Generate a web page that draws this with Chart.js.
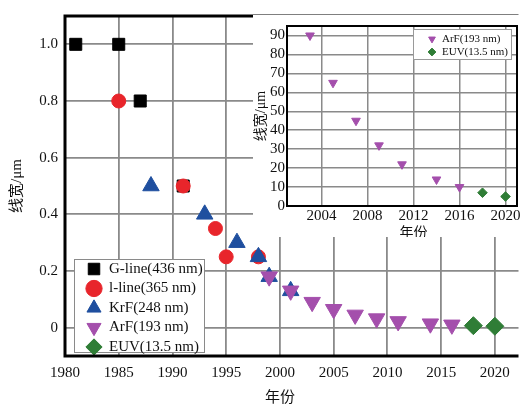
<!DOCTYPE html>
<html><head><meta charset="utf-8">
<script src="https://cdn.jsdelivr.net/npm/chart.js@4.4.1/dist/chart.umd.min.js"></script>
<style>
html,body{margin:0;padding:0;background:#fff;}
#wrap{position:relative;width:529px;height:408px;overflow:hidden;background:#fff;}
#main{position:absolute;left:0;top:0;}
#insetBox{position:absolute;left:253px;top:15px;width:270px;height:222px;background:#fff;}
#inset{position:absolute;left:0;top:0;}
</style></head><body>
<div id="wrap">
<canvas id="main" width="529" height="408"></canvas>
<div id="insetBox"><canvas id="inset" width="270" height="222"></canvas></div>
</div>
<script>
// ---- data (main chart, line width in µm) ----
const gYears = [1981, 1985, 1987, 1991];
const gWidths = [1.0, 1.0, 0.8, 0.5];
const iYears = [1985, 1991, 1994, 1995, 1998];
const iWidths = [0.8, 0.5, 0.35, 0.25, 0.25];
const krfYears = [1988, 1993, 1996, 1998, 1999, 2001];
const krfWidths = [0.5, 0.4, 0.3, 0.25, 0.18, 0.13];
const arfYears = [1999, 2001, 2003, 2005, 2007, 2009, 2011, 2014, 2016];
const arfWidths = [0.18, 0.13, 0.09, 0.065, 0.045, 0.032, 0.022, 0.014, 0.010];
const euvYears = [2018, 2020];
const euvWidths = [0.007, 0.005];
const seriesNames = ['G-line(436 nm)', 'l-line(365 nm)', 'KrF(248 nm)', 'ArF(193 nm)', 'EUV(13.5 nm)'];
const xTicks = [1980, 1985, 1990, 1995, 2000, 2005, 2010, 2015, 2020];
const xTickLabels = ['1980', '1985', '1990', '1995', '2000', '2005', '2010', '2015', '2020'];
const yTicks = [0, 0.2, 0.4, 0.6, 0.8, 1.0];
const yTickLabels = ['0', '0.2', '0.4', '0.6', '0.8', '1.0'];

// ---- data (inset chart, line width in nm) ----
const insetArfYears = [2003, 2005, 2007, 2009, 2011, 2014, 2016];
const insetArfNm = [90, 65, 45, 32, 22, 14, 10];
const insetEuvYears = [2018, 2020];
const insetEuvNm = [7, 5];
const insetXTicks = [2004, 2008, 2012, 2016, 2020];
const insetXTickLabels = ['2004', '2008', '2012', '2016', '2020'];
const insetYTicks = [0, 10, 20, 30, 40, 50, 60, 70, 80, 90];
const insetYTickLabels = ['0', '10', '20', '30', '40', '50', '60', '70', '80', '90'];

const yTitle = '线宽/μm';
const xTitle = '年份';

const SERIF = "'Liberation Serif', 'Times New Roman', 'Noto Sans CJK SC', serif";
const BLACK = '#000000', RED = '#e8252b', BLUE = '#1f4f9f', PURPLE = '#a44fac', GREEN = '#2f7d36';
const GRID = '#8a8a8a';

Chart.defaults.font.family = SERIF;
Chart.defaults.color = '#111';

function pts(xs, ys) { return xs.map((x, i) => ({ x: x, y: ys[i] })); }
function mk(label, xs, ys, style, color, r, rot, order) {
  return { label: label, data: pts(xs, ys), pointStyle: style, backgroundColor: color, borderColor: color,
    borderWidth: 1, pointRadius: r, pointHoverRadius: r, pointRotation: rot, order: order };
}

function decor(cfg) {
  return {
    id: 'decor',
    afterLayout(chart) {
      const lg = chart.legend;
      if (!lg) return;
      lg.left = cfg.legendLeft; lg.top = cfg.legendTop;
      lg.width = cfg.legendW; lg.height = cfg.legendH;
      lg.right = cfg.legendLeft + cfg.legendW; lg.bottom = cfg.legendTop + cfg.legendH;
      if (!lg._bgWrapped) {
        const orig = lg.draw;
        lg.draw = function () {
          const c = chart.ctx, b = cfg.bg;
          c.save();
          c.fillStyle = '#fff';
          c.fillRect(b.x, b.y, b.w, b.h);
          c.lineWidth = 1;
          c.strokeStyle = cfg.bgBorder;
          c.strokeRect(b.x + 0.5, b.y + 0.5, b.w - 1, b.h - 1);
          c.restore();
          return orig.apply(this, arguments);
        };
        lg._bgWrapped = true;
      }
    },
    beforeDatasetsDraw(chart) {
      const a = chart.chartArea, c = chart.ctx;
      c.save();
      c.strokeStyle = '#000';
      c.lineWidth = cfg.frameWidth;
      c.lineJoin = 'miter';
      c.beginPath();
      if (cfg.fullFrame) {
        c.rect(a.left, a.top, a.right - a.left, a.bottom - a.top);
      } else {
        c.moveTo(a.right, a.top); c.lineTo(a.left, a.top); c.lineTo(a.left, a.bottom); c.lineTo(a.right, a.bottom);
      }
      c.stroke();
      c.restore();
    },
    afterDraw(chart) {
      const c = chart.ctx;
      c.save();
      c.font = cfg.titleSize + 'px ' + SERIF;
      c.fillStyle = '#111';
      c.textAlign = 'center';
      c.textBaseline = 'middle';
      c.fillText(cfg.titleText, chart.scales.x.getPixelForValue(cfg.titleValue), cfg.titleY);
      c.restore();
    }
  };
}

new Chart(document.getElementById('main'), {
  type: 'scatter',
  data: { datasets: [
    mk(seriesNames[0], gYears, gWidths, 'rect', BLACK, 8.5, 0, 5),
    mk(seriesNames[1], iYears, iWidths, 'circle', RED, 7, 0, 4),
    mk(seriesNames[2], krfYears, krfWidths, 'triangle', BLUE, 9.5, 0, 3),
    mk(seriesNames[3], arfYears, arfWidths, 'triangle', PURPLE, 9.5, 180, 2),
    mk(seriesNames[4], euvYears, euvWidths, 'rectRot', GREEN, 9, 0, 1)
  ]},
  options: {
    responsive: false, animation: false, devicePixelRatio: 1,
    layout: { padding: { top: 13, left: 0, right: 0, bottom: 0 } },
    plugins: {
      tooltip: { enabled: false },
      legend: {
        position: 'chartArea', align: 'start',
        labels: { usePointStyle: true, boxHeight: 11.5, boxWidth: 15, padding: 4.5,
          font: { size: 15, family: SERIF }, color: '#111',
          sort: (a, b) => a.datasetIndex - b.datasetIndex }
      }
    },
    scales: {
      x: { type: 'linear', min: 1980, max: 2022.2,
        afterBuildTicks: s => { s.ticks = xTicks.map(v => ({ value: v })); },
        afterFit: s => { s.height = 52; },
        grid: { color: GRID, lineWidth: 1.8, drawTicks: false, z: -1 },
        border: { display: false },
        ticks: { padding: 8, font: { size: 15 }, color: '#111', maxRotation: 0, autoSkip: false,
          callback: (v, i) => xTickLabels[i] }
      },
      y: { type: 'linear', min: -0.1, max: 1.1,
        afterBuildTicks: s => { s.ticks = yTicks.map(v => ({ value: v })); },
        afterFit: s => { s.width = 65; },
        grid: { color: GRID, lineWidth: 1.8, drawTicks: false, z: -1 },
        border: { display: false },
        ticks: { padding: 7, font: { size: 15 }, color: '#111', autoSkip: false,
          callback: (v, i) => yTickLabels[i] },
        title: { display: true, text: yTitle, font: { size: 15 }, color: '#111', padding: { top: 8.5, bottom: 0 } }
      }
    }
  },
  plugins: [decor({ legendLeft: 82, legendTop: 257, legendW: 130, legendH: 140,
    bg: { x: 74, y: 259, w: 131, h: 94 }, bgBorder: '#8a8a8a',
    frameWidth: 3, fullFrame: false, titleText: xTitle, titleValue: 2000, titleY: 398.5, titleSize: 15 })]
});

new Chart(document.getElementById('inset'), {
  type: 'scatter',
  data: { datasets: [
    mk(seriesNames[3], insetArfYears, insetArfNm, 'triangle', PURPLE, 5, 180, 2),
    mk(seriesNames[4], insetEuvYears, insetEuvNm, 'rectRot', GREEN, 4.8, 0, 1)
  ]},
  options: {
    responsive: false, animation: false, devicePixelRatio: 1,
    layout: { padding: { top: 7, left: 0, right: 5, bottom: 0 } },
    plugins: {
      tooltip: { enabled: false },
      legend: {
        position: 'chartArea', align: 'start',
        labels: { usePointStyle: true, boxHeight: 5.5, boxWidth: 9, padding: 2,
          font: { size: 11, family: SERIF }, color: '#111',
          sort: (a, b) => a.datasetIndex - b.datasetIndex }
      }
    },
    scales: {
      x: { type: 'linear', min: 2001, max: 2021,
        afterBuildTicks: s => { s.ticks = insetXTicks.map(v => ({ value: v })); },
        afterFit: s => { s.height = 31; },
        grid: { color: GRID, lineWidth: 1.5, drawTicks: false, z: -1 },
        border: { display: false },
        ticks: { padding: 1, font: { size: 15 }, color: '#111', maxRotation: 0, autoSkip: false,
          callback: (v, i) => insetXTickLabels[i] }
      },
      y: { type: 'linear', min: 0, max: 95,
        afterBuildTicks: s => { s.ticks = insetYTicks.map(v => ({ value: v })); },
        afterFit: s => { s.width = 34; },
        grid: { color: GRID, lineWidth: 1.5, drawTicks: false, z: -1 },
        border: { display: false },
        ticks: { padding: 2, font: { size: 15 }, color: '#111', autoSkip: false,
          callback: (v, i) => insetYTickLabels[i] },
        title: { display: true, text: yTitle, font: { size: 14 }, color: '#111', padding: { top: 0, bottom: 0 } }
      }
    }
  },
  plugins: [decor({ legendLeft: 172.5, legendTop: 16.5, legendW: 90, legendH: 60,
    bg: { x: 160, y: 14, w: 99, h: 31 }, bgBorder: '#9a9a9a',
    frameWidth: 2, fullFrame: true, titleText: xTitle, titleValue: 2012, titleY: 218, titleSize: 14 })]
});
</script>
</body></html>
